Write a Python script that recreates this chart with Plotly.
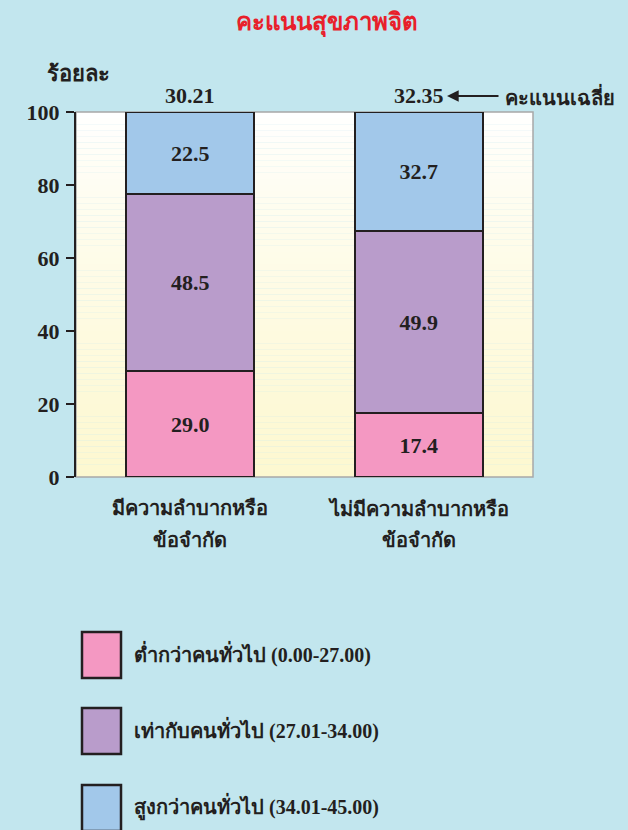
import plotly.graph_objects as go

categories = ["มีความลำบากหรือ<br>ข้อจำกัด", "ไม่มีความลำบากหรือ<br>ข้อจำกัด"]
low = [29.0, 17.4]
equal = [48.5, 49.9]
high = [22.5, 32.7]
means = [30.21, 32.35]
series_names = ["ต่ำกว่าคนทั่วไป (0.00-27.00)", "เท่ากับคนทั่วไป (27.01-34.00)", "สูงกว่าคนทั่วไป (34.01-45.00)"]
colors = ["#F498C2", "#B99CCB", "#A2C8EA"]
y_ticks = [0, 20, 40, 60, 80, 100]

W, H = 628, 830
L, R, T, B = 76, 533, 112, 477
SERIF = "Liberation Serif, Noto Sans, serif"
INK = "#231F20"

def px_x(x):
    return (x - L) / (R - L)

def px_y(y):
    return (B - y) / (B - T)

def bfont(size, color=INK):
    return dict(family=SERIF, size=size, color=color, weight="bold")

fig = go.Figure()
for name, vals, col in zip(series_names, [low, equal, high], colors):
    fig.add_trace(go.Bar(
        x=categories, y=vals, name=name,
        marker=dict(color=col, line=dict(color=INK, width=2)),
        texttemplate="%{y:.1f}", textposition="inside", insidetextanchor="middle",
        textfont=bfont(22), constraintext="none",
        showlegend=False, hoverinfo="skip",
    ))

shapes = []
# gradient background of plot area
n = 60
def lerp(a, b, t):
    return int(round(a + (b - a) * t))
top_c = (255, 255, 255)
bot_c = (253, 248, 208)
for i in range(n):
    t = i / (n - 1)
    c = tuple(lerp(top_c[k], bot_c[k], t ** 0.8) for k in range(3))
    shapes.append(dict(type="rect", xref="x domain", yref="y domain",
                       x0=0, x1=1, y0=1 - (i + 1) / n, y1=1 - i / n,
                       fillcolor="rgb(%d,%d,%d)" % c, line=dict(width=0), layer="below"))
shapes.append(dict(type="rect", xref="x domain", yref="y domain", x0=0, x1=1, y0=0, y1=1,
                   line=dict(color="#A8A8A8", width=1.5), layer="below"))

annotations = []
for cat, m in zip(categories, means):
    annotations.append(dict(x=cat, y=100, xref="x", yref="y", text="%.2f" % m,
                            showarrow=False, yanchor="bottom", yshift=2,
                            font=bfont(22)))
    # category labels, one annotation per line
    for j, line in enumerate(cat.split("<br>")):
        annotations.append(dict(x=cat, y=px_y(508 + 32 * j), xref="x", yref="paper",
                                text=line, showarrow=False, yanchor="middle",
                                xanchor="center", font=bfont(20)))
# arrow pointing to the mean label
annotations.append(dict(x=px_x(447), y=px_y(96), xref="paper", yref="paper", text="",
                        showarrow=True, ax=53, ay=0, arrowhead=2, arrowsize=1.3,
                        arrowwidth=1.8, arrowcolor=INK))
annotations.append(dict(x=px_x(503), y=px_y(96), xref="paper", yref="paper",
                        text="คะแนนเฉลี่ย", showarrow=False, xanchor="left", yanchor="middle",
                        font=bfont(20)))
# y axis title
annotations.append(dict(x=px_x(78), y=px_y(73), xref="paper", yref="paper",
                        text="ร้อยละ", showarrow=False, xanchor="center", yanchor="middle",
                        font=bfont(22)))

# custom legend
legend_rows = [655, 731, 808]
for name, col, yc in zip(series_names, colors, legend_rows):
    shapes.append(dict(type="rect", xref="paper", yref="paper",
                       x0=px_x(82), x1=px_x(121), y0=px_y(yc + 23), y1=px_y(yc - 23),
                       fillcolor=col, line=dict(color=INK, width=2.5)))
    annotations.append(dict(x=px_x(132), y=px_y(yc - 2), xref="paper", yref="paper",
                            text=name, showarrow=False, xanchor="left", yanchor="middle",
                            font=bfont(20)))

fig.update_layout(
    width=W, height=H,
    margin=dict(l=L, r=W - R, t=T, b=H - B),
    paper_bgcolor="#C2E6EE", plot_bgcolor="rgba(0,0,0,0)",
    barmode="stack", bargap=0.44,
    title=dict(text="คะแนนสุขภาพจิต", x=327 / W, xanchor="center",
               y=1 - 22 / H, yanchor="middle", font=bfont(24, "#E8202A")),
    shapes=shapes, annotations=annotations,
    xaxis=dict(showline=False, ticks="", showticklabels=False),
    yaxis=dict(range=[0, 100], tickvals=y_ticks, showgrid=False, zeroline=False,
               showline=True, linecolor=INK, linewidth=2, ticks="outside",
               ticklen=8, tickwidth=2, tickcolor=INK, tickfont=bfont(22),
               ticklabelstandoff=2),
    font=dict(family=SERIF),
)
fig.write_html("out.html", config={"displayModeBar": False},
               post_script="document.body.style.margin='0';document.body.style.overflow='hidden';")
